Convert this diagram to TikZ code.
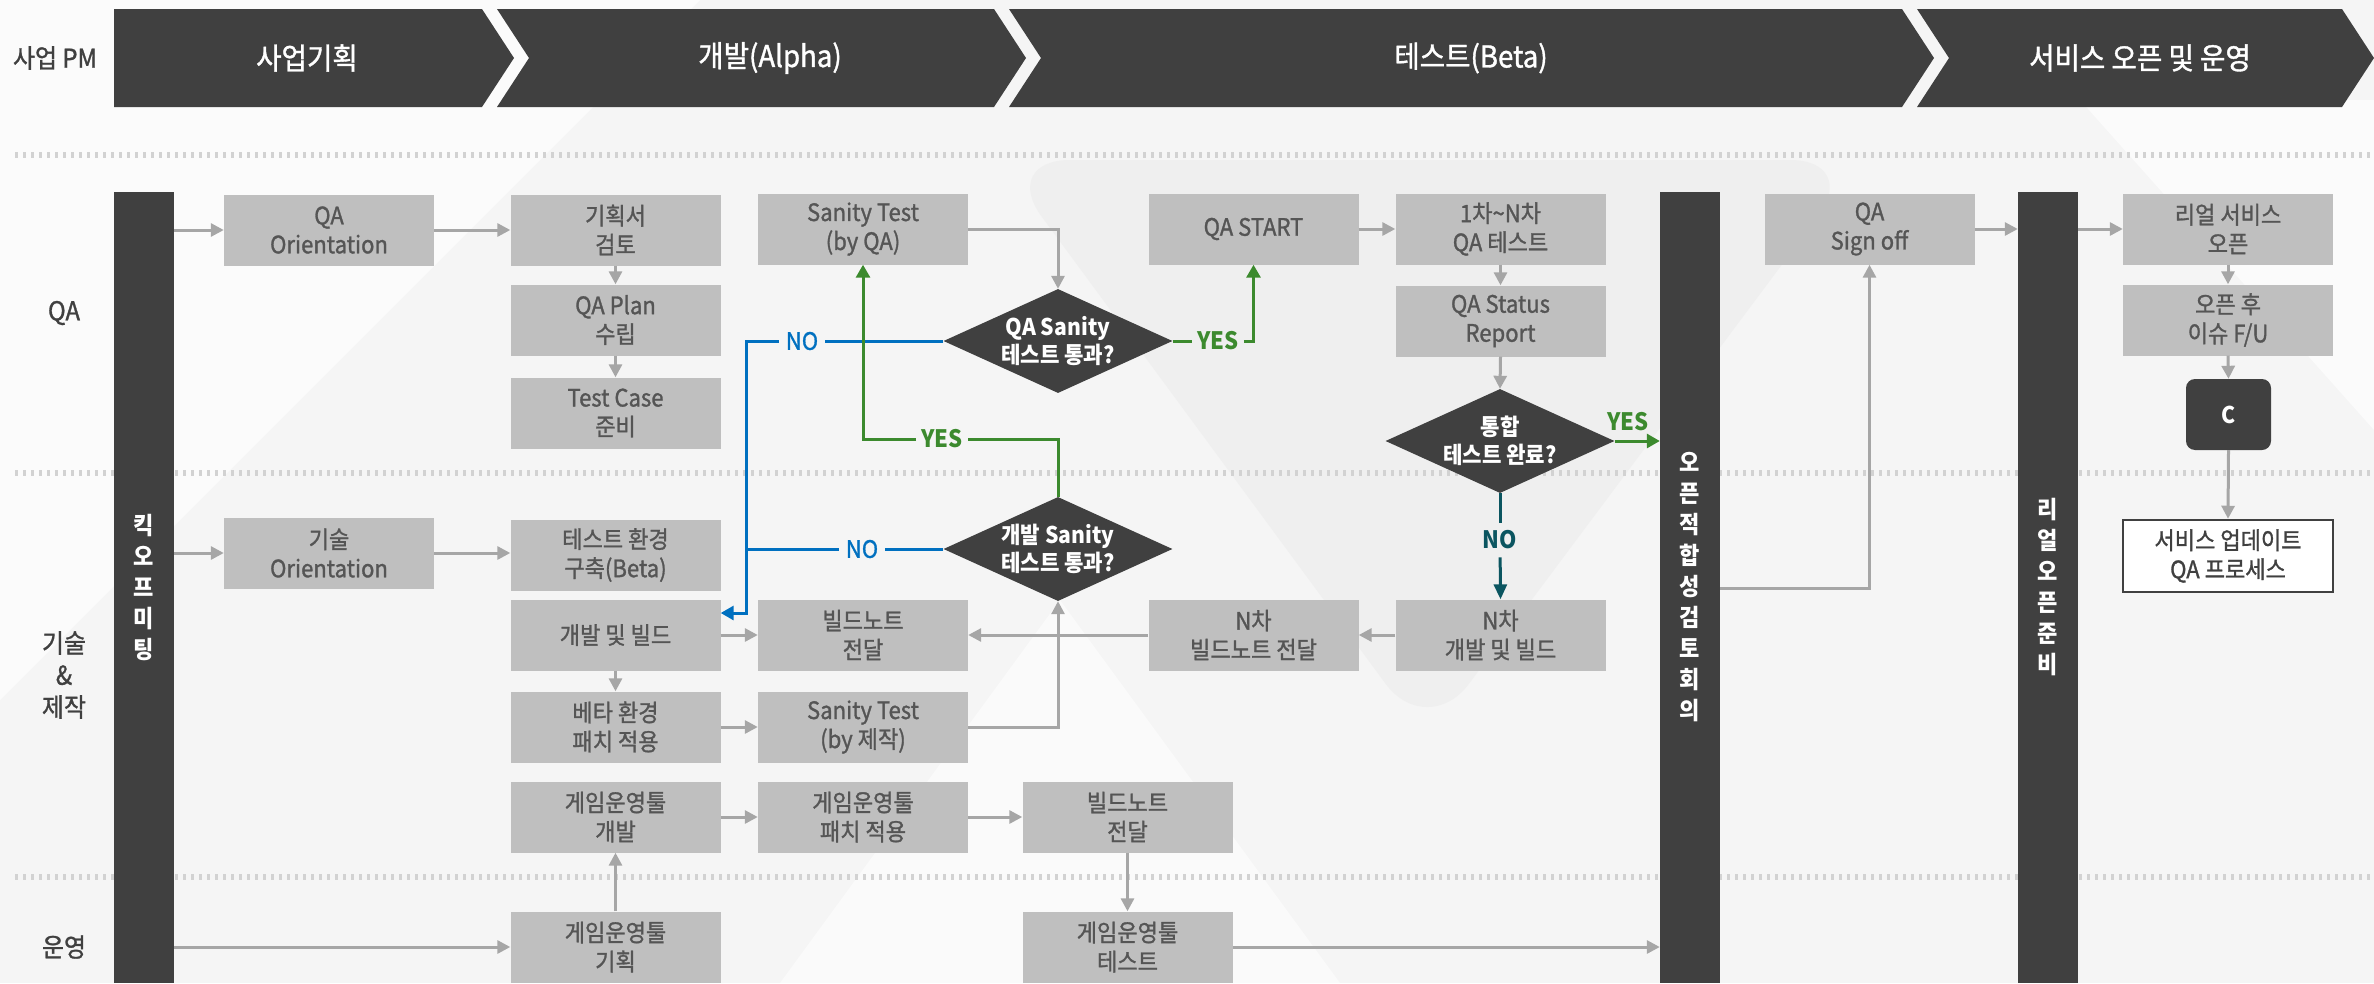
\documentclass[tikz,border=0pt]{standalone}
\usepackage{fontspec}
\setmainfont{Noto Sans CJK KR}[FakeStretch=0.92]
\newfontfamily\medf{Noto Sans CJK KR}[FakeStretch=0.92,FakeBold=1.2]
\usetikzlibrary{arrows.meta,shapes.geometric,calc}
\definecolor{bgc}{HTML}{F5F5F5}
\definecolor{bgshadecol}{HTML}{EFEFEF}
\definecolor{boxg}{HTML}{BFBFBF}
\definecolor{boxt}{HTML}{555555}
\definecolor{dark}{HTML}{404040}
\definecolor{arrg}{HTML}{A6A6A6}
\definecolor{blu}{HTML}{0070C0}
\definecolor{grn}{HTML}{3C8A2E}
\definecolor{tea}{HTML}{0B5560}
\definecolor{sepc}{HTML}{D2D2D2}
\tikzset{
 box/.style={fill=boxg, text=boxt, minimum width=210pt, minimum height=71pt, inner sep=0pt, align=center, font=\medf\fontsize{24}{29}\selectfont},
 dia/.style={diamond, fill=dark, text=white, minimum width=229pt, minimum height=104pt, inner sep=-2pt, shape aspect=2.2, align=center, font=\fontsize{23}{28}\selectfont\bfseries},
 vbar/.style={fill=dark, text=white, minimum width=60pt, minimum height=791pt, inner sep=0pt, align=center, font=\fontsize{24}{31}\selectfont\bfseries},
 ga/.style={draw=arrg, line width=3pt, -{Triangle[length=13pt,width=13pt]}},
 bl/.style={draw=blu, line width=3pt},
 ba/.style={draw=blu, line width=3pt, -{Triangle[length=13pt,width=14pt]}},
 gnl/.style={draw=grn, line width=3pt},
 gna/.style={draw=grn, line width=3pt, -{Triangle[length=13pt,width=14pt]}},
 tl/.style={draw=tea, line width=3pt},
 ta/.style={draw=tea, line width=3pt, -{Triangle[length=15pt,width=13pt]}},
 lab/.style={text=dark, font=\medf\fontsize{26}{32}\selectfont},
 hdr/.style={text=white, font=\medf\fontsize{30}{34}\selectfont},
 yeslab/.style={text=grn, inner sep=5pt, font=\fontsize{24}{26}\selectfont\bfseries},
 nolab/.style={text=blu, inner sep=7pt, font=\medf\fontsize{24}{26}\selectfont},
 nolabt/.style={text=tea, inner sep=8pt, font=\fontsize{24}{26}\selectfont\bfseries},
 sep/.style={draw=sepc, line width=6pt, dash pattern=on 3pt off 5pt},
}
\begin{document}
\begin{tikzpicture}[x=1pt,y=-1pt]
\useasboundingbox (0,0) rectangle (2374,983);
\fill[bgc] (0,0) rectangle (2374,983);
% faint background shapes
\fill[white,opacity=0.6] (0,0) -- (700,0) -- (0,700) -- cycle;
\fill[bgshadecol,rounded corners=70pt] (1000,160) -- (1860,160) -- (1427,740) -- cycle;
\fill[white,opacity=0.6] (2080,100) -- (2374,100) -- (2374,430) -- cycle;
\fill[white,opacity=0.5] (780,983) -- (1060,600) -- (1340,983) -- cycle;
% separators
\foreach \yy in {155,473,877} \draw[sep] (15,\yy) -- (2374,\yy);
% header
\fill[dark] (114,9) -- (482,9) -- (514,58) -- (482,107) -- (114,107) -- cycle;
\fill[dark] (497,9) -- (994,9) -- (1026,58) -- (994,107) -- (497,107) -- (529,58) -- cycle;
\fill[dark] (1009,9) -- (1902,9) -- (1934,58) -- (1902,107) -- (1009,107) -- (1041,58) -- cycle;
\fill[dark] (1917,9) -- (2342,9) -- (2374,58) -- (2342,107) -- (1917,107) -- (1949,58) -- cycle;
\node[hdr] (h1) at (307,58) {사업기획};
\node[hdr] (h2) at (770,58) {개발(Alpha)};
\node[hdr] (h3) at (1471,58) {테스트(Beta)};
\node[hdr] (h4) at (2140,58) {서비스 오픈 및 운영};
% row labels
\node[lab] (lpm) at (55,58) {사업 PM};
\node[lab] (lqa) at (64,313) {QA};
\node[lab,align=center] (ltech) at (64,675) {기술\\\&\\제작};
\node[lab] (lops) at (64,947) {운영};
% vertical bars
\node[vbar] (kick) at (144,587.5) {킥\\오\\프\\미\\팅};
\node[vbar] (fit) at (1690,587.5) {오\\픈\\적\\합\\성\\검\\토\\회\\의};
\node[vbar] (ready) at (2048,587.5) {리\\얼\\오\\픈\\준\\비};
% QA row boxes
\node[box] (qaor) at (329,230) {QA\\Orientation};
\node[box] (gihoek) at (615.5,230) {기획서\\검토};
\node[box] (qaplan) at (615.5,320) {QA Plan\\수립};
\node[box] (tc) at (615.5,413) {Test Case\\준비};
\node[box] (sqa) at (863,229) {Sanity Test\\(by QA)};
\node[box] (qastart) at (1253.5,229) {QA START};
\node[box] (n1) at (1500.5,229) {1차\textasciitilde N차\\QA 테스트};
\node[box] (status) at (1500.5,321) {QA Status\\Report};
\node[box] (qasign) at (1869.5,229) {QA\\Sign off};
\node[box] (real) at (2228,229) {리얼 서비스\\오픈};
\node[box] (openfu) at (2228,320) {오픈 후\\이슈 F/U};
\node[fill=dark, rounded corners=9pt, minimum width=85pt, minimum height=71pt, text=white, font=\fontsize{23}{26}\selectfont\bfseries] (cbox) at (2228.5,414.5) {C};
\node[box, fill=white, draw=dark, line width=2.5pt, text=dark, minimum height=72pt] (upd) at (2228,556) {서비스 업데이트\\QA 프로세스};
% diamonds
\node[dia] (qas) at (1058,341) {QA Sanity\\테스트 통과?};
\node[dia] (ds) at (1058,549) {개발 Sanity\\테스트 통과?};
\node[dia] (tong) at (1500,441) {통합\\테스트 완료?};
% tech and operation row boxes
\node[box] (tor) at (329,553) {기술\\Orientation};
\node[box] (testenv) at (615.5,555) {테스트 환경\\구축(Beta)};
\node[box] (dev) at (615.5,635) {개발 및 빌드};
\node[box] (bn) at (863,635) {빌드노트\\전달};
\node[box] (nbn) at (1253.5,635) {N차\\빌드노트 전달};
\node[box] (ndev) at (1500.5,635) {N차\\개발 및 빌드};
\node[box] (beta) at (615.5,727) {베타 환경\\패치 적용};
\node[box] (sbj) at (863,727) {Sanity Test\\(by 제작)};
\node[box] (gdev) at (615.5,817) {게임운영툴\\개발};
\node[box] (gpatch) at (863,817) {게임운영툴\\패치 적용};
\node[box] (bn2) at (1127.5,817) {빌드노트\\전달};
\node[box] (gplan) at (615.5,947) {게임운영툴\\기획};
\node[box] (gtest) at (1127.5,947) {게임운영툴\\테스트};
% gray arrows
\draw[ga] (kick.east |- qaor.west) -- (qaor.west);
\draw[ga] (qaor.east) -- (qaor.east -| gihoek.west);
\draw[ga] (gihoek.south) -- (qaplan.north);
\draw[ga] (qaplan.south) -- (tc.north);
\draw[ga] (sqa.east) -| (qas.north);
\draw[ga] (qastart.east) -- (n1.west);
\draw[ga] (n1.south) -- (status.north);
\draw[ga] (status.south) -- (tong.north);
\draw[ga] (kick.east |- tor.west) -- (tor.west);
\draw[ga] (tor.east) -- (tor.east -| testenv.west);
\draw[ga] (dev.east) -- (bn.west);
\draw[ga] (dev.south) -- (beta.north);
\draw[ga] (beta.east) -- (sbj.west);
\draw[ga] (sbj.east) -| (ds.south);
\draw[ga] (nbn.west) -- (bn.east);
\draw[ga] (ndev.west) -- (nbn.east);
\draw[ga] (gdev.east) -- (gpatch.west);
\draw[ga] (gpatch.east) -- (bn2.west);
\draw[ga] (bn2.south) -- (gtest.north);
\draw[ga] (kick.east |- gplan.west) -- (gplan.west);
\draw[ga] (gplan.north) -- (gdev.south);
\draw[ga] (gtest.east) -- (gtest.east -| fit.west);
\coordinate (fo) at (1720,588);
\draw[ga] (fo) -| (qasign.south);
\draw[ga] (qasign.east) -- (qasign.east -| ready.west);
\draw[ga] (ready.east |- real.west) -- (real.west);
\draw[ga] (real.south) -- (openfu.north);
\draw[ga] (openfu.south) -- (cbox.north);
\draw[ga] (cbox.south) -- (upd.north);
% blue NO paths
\node[nolab] (no1) at (802,341) {NO};
\node[nolab] (no2) at (862,549) {NO};
\coordinate (b1) at (746,341);
\coordinate (b2) at (746,613);
\coordinate (b3) at (746,549);
\draw[bl] (qas.west) -- (no1);
\draw[ba] (no1) -- (b1) -- (b2) -- (b2 -| dev.east);
\draw[bl] (ds.west) -- (no2);
\draw[bl] (no2) -- (b3);
% green YES paths
\node[yeslab] (yes1) at (1218,341) {YES};
\draw[gnl] (qas.east) -- (yes1);
\draw[gna] (yes1) -| (qastart.south);
\node[yeslab] (yes2) at (942,439) {YES};
\draw[gnl] (ds.north) |- (yes2);
\draw[gna] (yes2) -| (sqa.south);
\node[yeslab] (yes3) at (1628,422) {YES};
\draw[gna] (tong.east) -- (tong.east -| fit.west);
% teal NO
\node[nolabt] (no3) at (1500,540) {NO};
\draw[tl] (tong.south) -- (no3);
\draw[ta] (no3) -- (ndev.north);
\end{tikzpicture}
\end{document}
